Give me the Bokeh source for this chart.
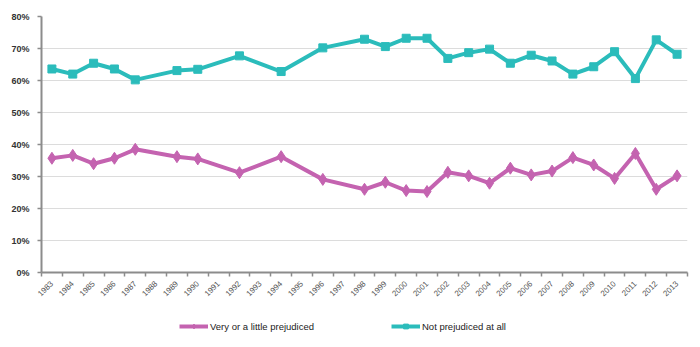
import math
from bokeh.plotting import figure
from bokeh.layouts import column
from bokeh.models import Range1d, FixedTicker, PrintfTickFormatter, Legend, LegendItem
from bokeh.embed import file_html
from bokeh.resources import INLINE

all_years = list(range(1983, 2014))
years = [1983, 1984, 1985, 1986, 1987, 1989, 1990, 1992, 1994, 1996, 1998, 1999,
         2000, 2001, 2002, 2003, 2004, 2005, 2006, 2007, 2008, 2009, 2010, 2011, 2012, 2013]
prejudiced = [35.7, 36.6, 34.0, 35.7, 38.5, 36.2, 35.5, 31.2, 36.2, 29.1, 26.0, 28.2,
              25.6, 25.3, 31.3, 30.2, 27.9, 32.6, 30.5, 31.7, 35.9, 33.6, 29.4, 37.2, 26.0, 30.2]
not_prejudiced = [63.6, 62.0, 65.4, 63.6, 60.2, 63.1, 63.5, 67.7, 62.8, 70.2, 72.9, 70.6,
                  73.2, 73.2, 66.9, 68.7, 69.8, 65.4, 67.9, 66.1, 62.0, 64.3, 69.0, 60.6, 72.7, 68.2]
y_ticks = [0, 10, 20, 30, 40, 50, 60, 70, 80]
labels = ["Very or a little prejudiced", "Not prejudiced at all"]

PINK = "#c463b0"
TEAL = "#2bbcbb"

p = figure(width=700, height=305, output_backend="svg", toolbar_location=None,
           x_range=Range1d(1982.5, 2013.5), y_range=Range1d(0, 80),
           min_border_left=41, min_border_right=13, min_border_top=16, min_border_bottom=33)
p.outline_line_color = None
p.background_fill_color = "white"
p.border_fill_color = "white"

# axes
p.xaxis.ticker = FixedTicker(ticks=all_years, minor_ticks=[y - 0.5 for y in all_years] + [2013.5])
p.xaxis.major_tick_out = 0
p.xaxis.major_tick_in = 0
p.xaxis.minor_tick_out = 4
p.xaxis.minor_tick_in = 0
p.xaxis.minor_tick_line_color = "#8c8c8c"
p.xaxis.minor_tick_line_width = 1.5
p.xaxis.axis_line_color = "#8c8c8c"
p.xaxis.axis_line_width = 2
p.xaxis.major_label_orientation = math.pi / 4
p.xaxis.major_label_text_font = "Liberation Sans"
p.xaxis.major_label_text_font_size = "8px"
p.xaxis.major_label_text_color = "#555555"
p.xaxis.major_label_standoff = 6

p.yaxis.ticker = FixedTicker(ticks=y_ticks)
p.yaxis.formatter = PrintfTickFormatter(format="%d%%")
p.yaxis.major_tick_out = 4
p.yaxis.major_tick_in = 0
p.yaxis.minor_tick_out = 0
p.yaxis.minor_tick_in = 0
p.yaxis.major_tick_line_color = "#8c8c8c"
p.yaxis.major_tick_line_width = 1.5
p.yaxis.axis_line_color = "#8c8c8c"
p.yaxis.axis_line_width = 2
p.yaxis.major_label_text_font = "Liberation Sans"
p.yaxis.major_label_text_font_size = "9px"
p.yaxis.major_label_text_font_style = "bold"
p.yaxis.major_label_text_color = "#333333"
p.yaxis.major_label_standoff = 8

p.xgrid.grid_line_color = None
p.ygrid.ticker = FixedTicker(ticks=y_ticks)
p.ygrid.grid_line_color = "#dcdcdc"
p.ygrid.grid_line_width = 1

# series
p.line(years, prejudiced, line_color=PINK, line_width=4)
p.scatter(years, prejudiced, marker="diamond", size=12, fill_color=PINK, line_color=PINK)
p.line(years, not_prejudiced, line_color=TEAL, line_width=4)
p.scatter(years, not_prejudiced, marker="square", size=8, fill_color=TEAL, line_color=TEAL)

# legend strip below the chart (same series, ranges set so only the legend shows)
q = figure(width=700, height=42, output_backend="svg", toolbar_location=None,
           x_range=Range1d(1982.5, 2013.5), y_range=Range1d(1000, 1001),
           x_axis_type=None, y_axis_type=None,
           min_border_left=0, min_border_right=0, min_border_top=0, min_border_bottom=0)
q.outline_line_color = None
q.xgrid.grid_line_color = None
q.ygrid.grid_line_color = None
ql1 = q.line(years, prejudiced, line_color=PINK, line_width=4)
qm1 = q.scatter(years, prejudiced, marker="diamond", size=12, fill_color=PINK, line_color=PINK)
ql2 = q.line(years, not_prejudiced, line_color=TEAL, line_width=4)
qm2 = q.scatter(years, not_prejudiced, marker="square", size=8, fill_color=TEAL, line_color=TEAL)

legend = Legend(items=[LegendItem(label=labels[0], renderers=[ql1, qm1]),
                       LegendItem(label=labels[1], renderers=[ql2, qm2])],
                orientation="horizontal", location=(138, 15), spacing=54,
                glyph_width=29, glyph_height=12, label_standoff=2, padding=0, margin=0,
                border_line_color=None, background_fill_alpha=0,
                label_height=12, label_width=127,
                label_text_font="Liberation Sans", label_text_font_size="9.5px",
                label_text_color="#222222")
q.add_layout(legend, "center")

layout = column(p, q, spacing=0)
open("out.html", "w").write(file_html(layout, INLINE))
